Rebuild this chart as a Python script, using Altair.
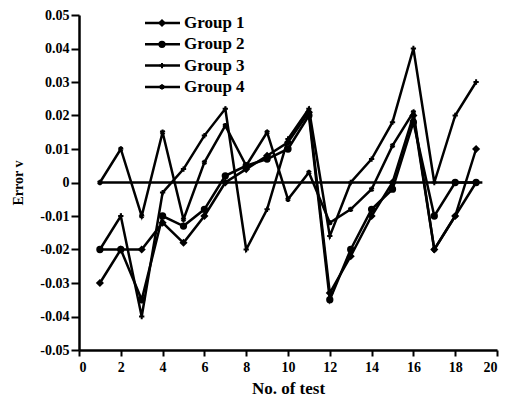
import altair as alt
import pandas as pd

tests = list(range(1, 20))
group_names = ["Group 1", "Group 2", "Group 3", "Group 4"]
g1 = [-0.03, -0.02, -0.02, -0.012, -0.018, -0.01, 0.0, 0.004, 0.008, 0.012, 0.021,
      -0.033, -0.022, -0.01, 0.0, 0.02, -0.02, -0.01, 0.01]
g2 = [-0.02, -0.02, -0.035, -0.01, -0.013, -0.008, 0.002, 0.005, 0.007, 0.01, 0.02,
      -0.035, -0.02, -0.008, -0.002, 0.018, -0.01, 0.0, 0.0]
g3 = [-0.02, -0.01, -0.04, -0.003, 0.004, 0.014, 0.022, -0.02, -0.008, 0.013, 0.022,
      -0.016, 0.0, 0.007, 0.018, 0.04, 0.0, 0.02, 0.03]
g4 = [0.0, 0.01, -0.01, 0.015, -0.011, 0.006, 0.017, 0.005, 0.015, -0.005, 0.003,
      -0.012, -0.008, -0.002, 0.011, 0.021, -0.02, -0.01, 0.0]
zero_x = [1, 19.3]
zero_y = [0, 0]
y_ticks = [-0.05, -0.04, -0.03, -0.02, -0.01, 0, 0.01, 0.02, 0.03, 0.04, 0.05]
x_ticks = list(range(0, 21, 2))

rows = []
for name, vals in zip(group_names, [g1, g2, g3, g4]):
    for t, v in zip(tests, vals):
        rows.append({"test": t, "err": v, "group": name})
df = pd.DataFrame(rows)
zero_df = pd.DataFrame({"test": zero_x, "err": zero_y})
leg_df = pd.DataFrame({"group": group_names, "idx": [0, 1, 2, 3]})

PLUS = "M0,-1L0,1M-1,0L1,0"
ASTER = "M0,-1L0,1M-0.87,-0.5L0.87,0.5M-0.87,0.5L0.87,-0.5"
shape_scale = alt.Scale(domain=group_names, range=["diamond", "circle", PLUS, ASTER])

FONT = "Liberation Serif"
xs = alt.Scale(domain=[0, 20], nice=False)
ys = alt.Scale(domain=[-0.05, 0.05], nice=False)

x_axis = alt.Axis(values=x_ticks, title="No. of test", grid=False, tickSize=6,
                  tickWidth=2, domainWidth=2.5, domainColor="black", tickColor="black",
                  labelFont=FONT, labelFontWeight="bold", labelFontSize=14,
                  labelColor="black", titleFont=FONT, titleFontWeight="bold",
                  titleFontSize=17, titleColor="black", labelPadding=4, titlePadding=6)
y_axis = alt.Axis(values=y_ticks, title="Error v", grid=False, tickSize=8,
                  tickWidth=2, domainWidth=2.5, domainColor="black", tickColor="black",
                  labelFont=FONT, labelFontWeight="bold", labelFontSize=14,
                  labelColor="black", titleFont=FONT, titleFontWeight="bold",
                  titleFontSize=14, titleColor="black", labelPadding=2, titlePadding=14,
                  labelExpr="datum.value == 0 ? '0' : (datum.value < 0 ? '-' : '') + format(abs(datum.value), '.2f')")

zero = alt.Chart(zero_df).mark_line(color="black", strokeWidth=2.5).encode(
    x=alt.X("test:Q", scale=xs, axis=x_axis),
    y=alt.Y("err:Q", scale=ys, axis=y_axis))
base = alt.Chart(df).encode(
    x=alt.X("test:Q", scale=xs, axis=x_axis),
    y=alt.Y("err:Q", scale=ys, axis=y_axis),
)
lines = base.mark_line(color="black", strokeWidth=2.5).encode(detail="group:N")
points = base.mark_point(filled=True, fill="black", stroke="black", strokeWidth=2,
                         opacity=1, size=28).encode(
    shape=alt.Shape("group:N", scale=shape_scale, legend=None))
data_layer = alt.layer(zero, lines, points)

leg = alt.Chart(leg_df).transform_calculate(py="8 + datum.idx * 21.3")
leg_line = leg.mark_rule(color="black", strokeWidth=2.5).encode(
    x=alt.value(66), x2=alt.value(101), y=alt.Y("py:Q", scale=None, axis=None))
leg_pt = leg.mark_point(filled=True, fill="black", stroke="black", strokeWidth=2,
                        opacity=1, size=28).encode(
    x=alt.value(83), y=alt.Y("py:Q", scale=None, axis=None),
    shape=alt.Shape("group:N", scale=shape_scale, legend=None))
leg_txt = leg.mark_text(align="left", baseline="middle", font=FONT, fontWeight="bold",
                        fontSize=17, color="black").encode(
    x=alt.value(105), y=alt.Y("py:Q", scale=None, axis=None), text="group:N")
legend_layer = alt.layer(leg_line, leg_pt, leg_txt)

chart = alt.layer(data_layer, legend_layer).resolve_scale(
    y="independent"
).properties(
    width=418, height=335,
    autosize=alt.AutoSizeParams(type="none"),
    padding={"left": 79, "top": 15, "right": 9, "bottom": 54},
    background="white",
).configure_view(stroke=None)

chart.save("out.html", embed_options={"renderer": "svg", "actions": False})
